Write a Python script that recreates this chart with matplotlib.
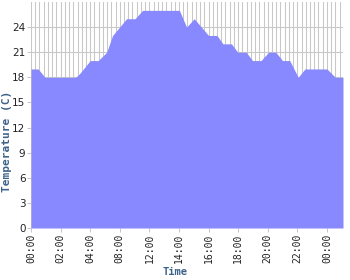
import matplotlib
matplotlib.use("Agg")
import matplotlib.pyplot as plt
import numpy as np

# -------------------------------------------------
# DATA
# -------------------------------------------------
# sample positions (sample index along the category axis) and temperatures
sample_pos = [0, 1.7, 3.3, 10.6, 11.6, 14.0, 15.9, 17.9, 19.3, 22.6, 24.6,
              26.4, 35.1, 36.8, 38.6, 42.0, 44.0, 45.4, 47.4, 48.9, 50.9,
              52.4, 54.4, 56.2, 57.9, 59.5, 61.2, 63.2, 64.8, 70.0, 72.0,
              73.8]
temps = [19, 19, 18, 18, 18.5, 20, 20, 21, 23, 25, 25,
         26, 26, 24, 25, 23, 23, 22, 22, 21, 21,
         20, 20, 21, 21, 20, 20, 18, 19, 19, 18,
         18]

tick_pos = [0, 7, 14, 21, 28, 35, 42, 49, 56, 63, 70]
tick_labels = ["00:00", "02:00", "04:00", "08:00", "12:00", "14:00",
               "16:00", "18:00", "20:00", "22:00", "00:00"]
y_ticks = [0, 3, 6, 9, 12, 15, 18, 21, 24]

FILL = "#8888ff"
GRID = "#c8c8c8"
LABEL = "#3d6389"

# -------------------------------------------------
# PLOT
# -------------------------------------------------
fig = plt.figure(figsize=(3.5, 2.8), dpi=100)
ax = fig.add_axes([31 / 350, 52 / 280, 312 / 350, 226 / 280])

ax.set_xlim(0, 73.8)
ax.set_ylim(0, 27)

# grid: vertical line at every sample, horizontal at y ticks
for x in np.arange(0, 74):
    ax.axvline(x, color=GRID, lw=0.75, zorder=0)
for y in y_ticks:
    ax.axhline(y, color=GRID, lw=0.75, zorder=0)

ax.fill_between(sample_pos, temps, 0, color=FILL, lw=0, zorder=2)

for s in ax.spines.values():
    s.set_visible(False)

ax.set_xticks(tick_pos)
ax.set_xticklabels(tick_labels, rotation=90, fontsize=7,
                   family="DejaVu Sans Mono", color="#222222")
ax.set_yticks(y_ticks)
ax.set_yticklabels([str(v) for v in y_ticks], fontsize=7.5,
                   family="DejaVu Sans", color="#222222")
ax.tick_params(axis="both", length=3, width=0.75, color=GRID, pad=1)

ax.set_xlabel("Time", fontsize=7.5, fontweight="bold", color=LABEL,
              family="DejaVu Sans Mono")
ax.set_ylabel("Temperature (C)", fontsize=8, fontweight="bold",
              color=LABEL, family="DejaVu Sans Mono")
ax.xaxis.set_label_coords(0.46, -0.195)
ax.yaxis.set_label_coords(-0.078, 0.383)
ax.xaxis.label.set_va("center")
ax.yaxis.label.set_va("center")

fig.savefig("out.png", dpi=100)
